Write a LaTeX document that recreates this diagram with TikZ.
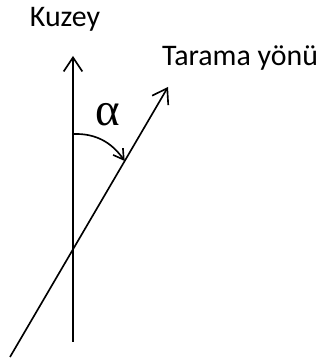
\documentclass[tikz,border=0pt]{standalone}
\usepackage{fontspec}
\setmainfont{Carlito}
\newfontfamily\greekfont{Liberation Serif}
\usepackage{tikz}
\usetikzlibrary{arrows.meta}

\begin{document}
\begin{tikzpicture}[x=1cm,y=1cm,line width=1.4pt,
    ok/.style={-{Straight Barb[length=0.42cm,width=0.56cm,line width=1.4pt]}},
    kucukok/.style={-{Straight Barb[length=0.3cm,width=0.36cm,line width=1.4pt]}},
    yazi/.style={font=\fontsize{25.5}{30}\selectfont,inner sep=0pt}]
    \useasboundingbox (0,0) rectangle (9.72,10.74);
    \coordinate (kuzeyalt) at (2.19,0.48);
    \coordinate (kuzeyuc)  at (2.19,9.06);
    \coordinate (taramaalt) at (0.30,0.03);
    \coordinate (taramauc)  at (5.04,8.13);
    \coordinate (acibas) at (2.19,6.72);
    \coordinate (acison) at (3.74,5.91);
    \draw[ok] (kuzeyalt) -- (kuzeyuc);
    \draw[ok] (taramaalt) -- (taramauc);
    \draw[kucukok] (acibas) to[out=2,in=125] (acison);
    \node[yazi] (kuzey) at (1.95,10.17) {Kuzey};
    \node[yazi] (tarama) at (7.2,9.0) {Tarama yönü};
    \node[font=\greekfont\fontsize{40}{44}\selectfont,inner sep=0pt] (alfa) at (3.24,7.29) {α};
  \end{tikzpicture}
\end{document}
